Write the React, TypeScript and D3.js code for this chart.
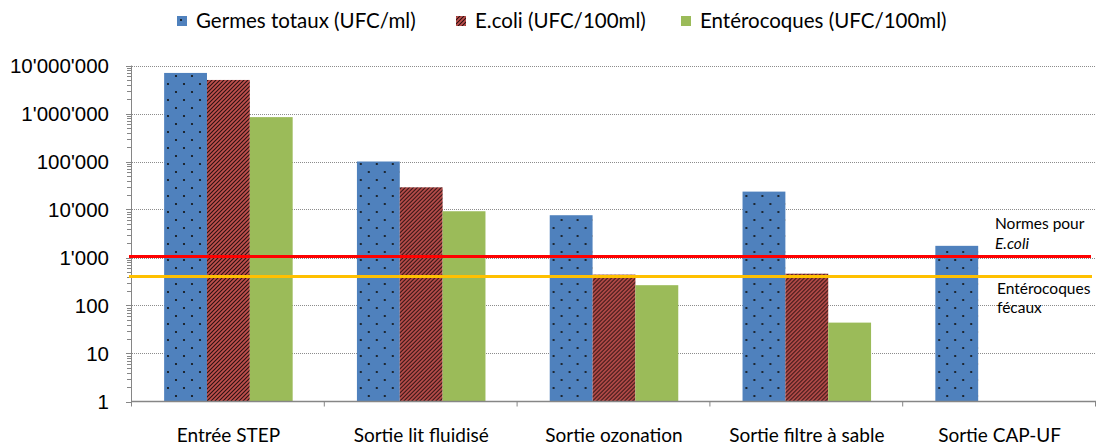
import React from "react";
import * as d3 from "d3";

// Data (log scale)
const categories = [
  "Entrée STEP",
  "Sortie lit fluidisé",
  "Sortie ozonation",
  "Sortie filtre à sable",
  "Sortie CAP-UF",
];
const seriesNames = [
  "Germes totaux (UFC/ml)",
  "E.coli (UFC/100ml)",
  "Entérocoques (UFC/100ml)",
];
const germesTotaux: (number | null)[] = [7000000, 100000, 7600, 23600, 1750];
const eColi: (number | null)[] = [5000000, 29000, 440, 460, null];
const enterocoques: (number | null)[] = [840000, 9200, 265, 44, null];
const yTicks = [1, 10, 100, 1000, 10000, 100000, 1000000, 10000000];
const normeEColi = 1000;
const normeEntero = 400;

const seriesValues = [germesTotaux, eColi, enterocoques];
const fills = ["url(#dots)", "url(#stripes)", "#9BBB59"];

const W = 1097;
const H = 445;
const plot = { left: 132, right: 1096, top: 65.5, bottom: 401.5 };

const fmt = (v: number) => d3.format(",")(v).replace(/,/g, "'");

export default function App() {
  const x = d3.scaleBand<string>().domain(categories).range([plot.left, plot.right]);
  const xs = d3
    .scaleBand<string>()
    .domain(seriesNames)
    .range([0, x.bandwidth()])
    .paddingOuter(0.75);
  const y = d3.scaleLog().domain([1, 1e7]).range([plot.bottom, plot.top]);

  const minor: number[] = [];
  for (let d = 1; d < 1e7; d *= 10) for (let k = 2; k < 10; k++) minor.push(d * k);

  const legendX = [177, 456, 681];
  const sans = "Lato, 'Open Sans', sans-serif";

  return (
    <svg
      width={W}
      height={H}
      style={{ position: "absolute", left: 0, top: 0, background: "#fff" }}
      fontFamily={sans}
    >
      <defs>
        <pattern id="dots" width={16} height={16} patternUnits="userSpaceOnUse">
          <rect width={16} height={16} fill="#4F81BD" />
          <circle cx={4} cy={4} r={1.1} fill="#111" />
          <circle cx={12} cy={12} r={1.1} fill="#111" />
        </pattern>
        <pattern id="stripes" width={4} height={4} patternUnits="userSpaceOnUse">
          <rect width={4} height={4} fill="#C0504D" />
          <path d="M-1,1 L1,-1 M0,4 L4,0 M3,5 L5,3" stroke="#2a1010" strokeWidth={1.1} />
        </pattern>
      </defs>

      {/* gridlines */}
      {yTicks.slice(1).map((t) => (
        <line
          key={"g" + t}
          x1={plot.left}
          x2={plot.right}
          y1={Math.round(y(t)) + 0.5}
          y2={Math.round(y(t)) + 0.5}
          stroke="#8c8c8c"
          strokeDasharray="1,1"
        />
      ))}

      {/* bars */}
      {categories.map((c, i) => (
        <g key={c} transform={`translate(${x(c)},0)`}>
          {seriesNames.map((s, j) => {
            const v = seriesValues[j][i];
            if (v == null) return null;
            return (
              <rect
                key={s}
                x={xs(s)}
                y={y(v)}
                width={xs.bandwidth()}
                height={plot.bottom - y(v)}
                fill={fills[j]}
              />
            );
          })}
        </g>
      ))}

      {/* y axis */}
      <line x1={plot.left - 0.5} x2={plot.left - 0.5} y1={plot.top} y2={plot.bottom} stroke="#868686" />
      {minor.map((t) => (
        <line
          key={"m" + t}
          x1={plot.left - 5}
          x2={plot.left}
          y1={Math.round(y(t)) + 0.5}
          y2={Math.round(y(t)) + 0.5}
          stroke="#868686"
        />
      ))}
      {yTicks.map((t) => (
        <g key={"t" + t}>
          <line
            x1={plot.left - 6}
            x2={plot.left}
            y1={Math.round(y(t)) + 0.5}
            y2={Math.round(y(t)) + 0.5}
            stroke="#868686"
          />
          <text
            x={109}
            y={y(t)}
            dy="0.36em"
            textAnchor="end"
            fontSize={20.5}
            fontFamily="'Liberation Sans', Arial, sans-serif"
            fill="#000"
          >
            {fmt(t)}
          </text>
        </g>
      ))}

      {/* x axis */}
      <line x1={plot.left - 1} x2={plot.right} y1={plot.bottom} y2={plot.bottom} stroke="#868686" strokeWidth={1.5} />
      {[...categories.map((c) => x(c) as number), plot.right].map((p, i) => (
        <line key={"xt" + i} x1={p - 0.5} x2={p - 0.5} y1={plot.bottom} y2={plot.bottom + 5} stroke="#868686" />
      ))}
      {categories.map((c) => (
        <text
          key={"l" + c}
          x={(x(c) as number) + x.bandwidth() / 2}
          y={442}
          textAnchor="middle"
          fontSize={19}
          fill="#000"
        >
          {c}
        </text>
      ))}

      {/* norm lines */}
      <line x1={129} x2={1091} y1={y(normeEColi) - 1} y2={y(normeEColi) - 1} stroke="#FF0000" strokeWidth={3} />
      <line x1={129} x2={1092} y1={y(normeEntero)} y2={y(normeEntero)} stroke="#FFC000" strokeWidth={3} />
      <text x={995} y={229} fontSize={15.5} fill="#000">
        Normes pour
      </text>
      <text x={995} y={249} fontSize={15.5} fontStyle="italic" fill="#000">
        E.coli
      </text>
      <text x={997} y={294} fontSize={15.5} fill="#000">
        Entérocoques
      </text>
      <text x={997} y={313} fontSize={15.5} fill="#000">
        fécaux
      </text>

      {/* legend */}
      {seriesNames.map((s, j) => (
        <g key={"lg" + s} transform={`translate(${legendX[j]},0)`}>
          <rect x={0} y={16} width={10} height={10} fill={fills[j]} />
          <text x={19} y={28} fontSize={20.5} fill="#000">
            {s}
          </text>
        </g>
      ))}
    </svg>
  );
}
